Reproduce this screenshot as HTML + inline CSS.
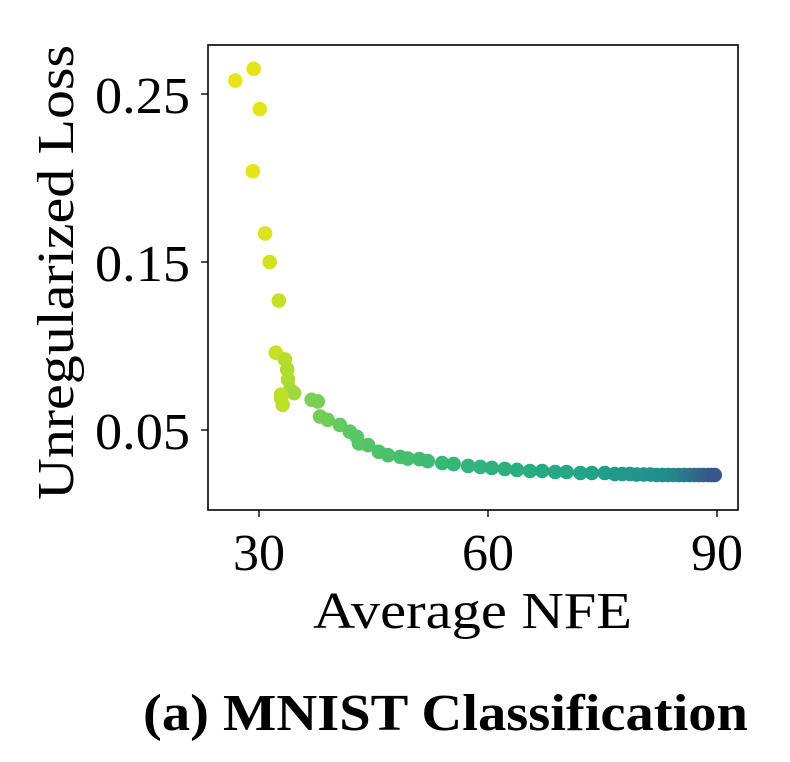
<!DOCTYPE html>
<html><head><meta charset="utf-8"><style>
body{margin:0;background:#fff;}
svg text{font-family:"Liberation Serif",serif;fill:#000;}
</style></head><body>
<svg id="chart" width="790" height="757">
<g id="marks"></g>
<rect x="208" y="45" width="530" height="465" fill="none" stroke="#000" stroke-width="1.6"/>
<g id="ticks"></g>
<text x="313" y="628" font-size="52" textLength="319" lengthAdjust="spacingAndGlyphs">Average NFE</text>
<text transform="translate(73,500) rotate(-90)" font-size="52" textLength="455" lengthAdjust="spacingAndGlyphs">Unregularized Loss</text>
<text x="143" y="730" font-size="52" font-weight="bold" textLength="605" lengthAdjust="spacingAndGlyphs">(a) MNIST Classification</text>
</svg>
<script>
const xValues=[26.9,29.3,30.1,29.2,30.8,31.4,32.6,32.2,33.4,33.7,33.8,34.1,34.6,32.9,32.9,33.1,36.9,37.7,38.0,39.0,40.6,41.9,42.8,43.1,44.3,45.7,46.9,48.5,49.5,51.0,52.1,54.0,55.5,57.4,59.0,60.5,62.2,63.8,65.5,67.1,68.8,70.3,72.1,73.6,75.3,76.6,77.6,78.6,79.5,80.4,81.3,82.1,82.9,83.6,84.3,85.0,85.7,86.4,87.0,87.6,88.2,88.8,89.3,89.7];
const yValues=[0.258,0.265,0.241,0.204,0.167,0.150,0.127,0.096,0.092,0.086,0.080,0.074,0.072,0.071,0.069,0.065,0.068,0.067,0.058,0.056,0.053,0.049,0.046,0.042,0.041,0.037,0.035,0.034,0.033,0.0327,0.0315,0.0303,0.0297,0.0286,0.028,0.0274,0.0268,0.0262,0.0256,0.0256,0.025,0.025,0.0244,0.0244,0.0244,0.0238,0.0238,0.0238,0.0235,0.0235,0.0235,0.0232,0.0232,0.0232,0.0232,0.0232,0.0232,0.0232,0.0232,0.0232,0.0232,0.0232,0.0232,0.0232];
const xTicks=[30,60,90];
const yTicks=[0.05,0.15,0.25];
const yTickLabels=["0.05","0.15","0.25"];
const sx=v=>259+(v-30)*229/30;
const sy=v=>430-(v-0.05)*1680;
const NS="http://www.w3.org/2000/svg";
const stops=[[26,[234,228,26]],[30,[228,228,25]],[33,[190,223,38]],[36,[130,210,80]],[42,[90,199,100]],[55,[53,183,121]],[72,[33,165,133]],[84,[34,140,141]],[90,[59,82,139]]];
function col(x){
  if(x<=stops[0][0])return stops[0][1];
  for(let i=1;i<stops.length;i++){if(x<=stops[i][0]){const a=stops[i-1],b=stops[i],t=(x-a[0])/(b[0]-a[0]);return a[1].map((c,k)=>Math.round(c+(b[1][k]-c)*t));}}
  return stops[stops.length-1][1];
}
const marks=document.getElementById('marks');
xValues.forEach((x,i)=>{
  const c=document.createElementNS(NS,'circle');
  c.setAttribute('cx',sx(x));c.setAttribute('cy',sy(yValues[i]));c.setAttribute('r',7.3);
  c.setAttribute('fill','rgb('+col(x).join(',')+')');
  
  
  marks.appendChild(c);
});
const tk=document.getElementById('ticks');
xTicks.forEach(v=>{
  const l=document.createElementNS(NS,'line');
  l.setAttribute('x1',sx(v));l.setAttribute('x2',sx(v));l.setAttribute('y1',510);l.setAttribute('y2',517);l.setAttribute('stroke','#000');l.setAttribute('stroke-width',1.4);
  
  
  tk.appendChild(l);
  const t=document.createElementNS(NS,'text');
  t.setAttribute('x',sx(v));t.setAttribute('y',570);t.setAttribute('font-size',52);t.setAttribute('text-anchor','middle');t.textContent=v;
  
  
  tk.appendChild(t);
});
yTicks.forEach((v,i)=>{
  const l=document.createElementNS(NS,'line');
  l.setAttribute('x1',201);l.setAttribute('x2',208);l.setAttribute('y1',sy(v));l.setAttribute('y2',sy(v));l.setAttribute('stroke','#000');l.setAttribute('stroke-width',1.4);
  
  
  tk.appendChild(l);
  const t=document.createElementNS(NS,'text');
  t.setAttribute('x',95);t.setAttribute('y',sy(v)+19);t.setAttribute('font-size',52);t.setAttribute('textLength',95);t.setAttribute('lengthAdjust','spacingAndGlyphs');t.textContent=yTickLabels[i];
  
  
  tk.appendChild(t);
});
</script>
</body></html>
